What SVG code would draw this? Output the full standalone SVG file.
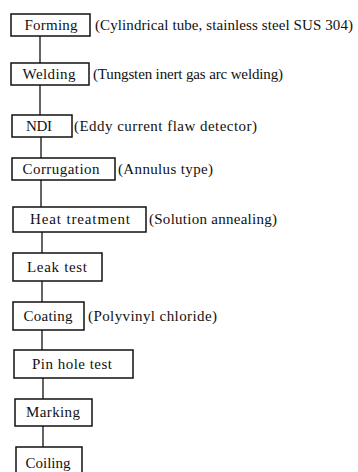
<svg xmlns="http://www.w3.org/2000/svg" width="358" height="472" viewBox="0 0 358 472">
<style>
.box{fill:#fff;stroke:#111;stroke-width:1.5}
.t{font-family:"Liberation Serif","Times New Roman",serif;font-size:15px;fill:#111}
.c{text-anchor:middle}
.ln{stroke:#111;stroke-width:1.3;fill:none}
</style>
<rect width="358" height="472" fill="#fff"/>
<g id="connectors">
<line class="ln" x1="40" y1="36" x2="40" y2="63"/>
<line class="ln" x1="40" y1="85" x2="40" y2="115"/>
<line class="ln" x1="41" y1="137" x2="41" y2="158"/>
<line class="ln" x1="41" y1="180" x2="41" y2="207"/>
<line class="ln" x1="42" y1="232" x2="42" y2="253"/>
<line class="ln" x1="42" y1="281" x2="42" y2="302"/>
<line class="ln" x1="42" y1="330" x2="42" y2="350"/>
<line class="ln" x1="43" y1="378" x2="43" y2="399"/>
<line class="ln" x1="43" y1="426" x2="43" y2="447"/>
</g>
<g id="forming">
<rect class="box" x="11" y="14" width="79" height="22"/>
<text class="t c" x="51" y="30" textLength="53">Forming</text>
<text class="t" x="95" y="30" textLength="258">(Cylindrical tube, stainless steel SUS 304)</text>
</g>
<g id="welding">
<rect class="box" x="11" y="63" width="78" height="22"/>
<text class="t c" x="49" y="79" textLength="53">Welding</text>
<text class="t" x="93" y="79" textLength="190">(Tungsten inert gas arc welding)</text>
</g>
<g id="ndi">
<rect class="box" x="12" y="115" width="60" height="22"/>
<text class="t c" x="39" y="131" textLength="26">NDI</text>
<text class="t" x="74" y="131" textLength="183">(Eddy current flaw detector)</text>
</g>
<g id="corrugation">
<rect class="box" x="12" y="158" width="103" height="22"/>
<text class="t c" x="61" y="174" textLength="77">Corrugation</text>
<text class="t" x="118" y="174" textLength="95">(Annulus type)</text>
</g>
<g id="heat">
<rect class="box" x="13" y="207" width="133" height="25"/>
<text class="t c" x="80" y="224" textLength="100">Heat treatment</text>
<text class="t" x="149" y="224" textLength="128">(Solution annealing)</text>
</g>
<g id="leak">
<rect class="box" x="13" y="253" width="89" height="28"/>
<text class="t c" x="57" y="272" textLength="60">Leak test</text>
</g>
<g id="coating">
<rect class="box" x="13" y="302" width="71" height="28"/>
<text class="t c" x="48" y="321" textLength="49">Coating</text>
<text class="t" x="88" y="321" textLength="129">(Polyvinyl chloride)</text>
</g>
<g id="pinhole">
<rect class="box" x="14" y="350" width="119" height="28"/>
<text class="t c" x="72" y="369" textLength="80">Pin hole test</text>
</g>
<g id="marking">
<rect class="box" x="15" y="399" width="77" height="27"/>
<text class="t c" x="53" y="417" textLength="54">Marking</text>
</g>
<g id="coiling">
<rect class="box" x="16" y="447" width="66" height="32"/>
<text class="t c" x="48" y="468" textLength="45">Coiling</text>
</g>
</svg>
